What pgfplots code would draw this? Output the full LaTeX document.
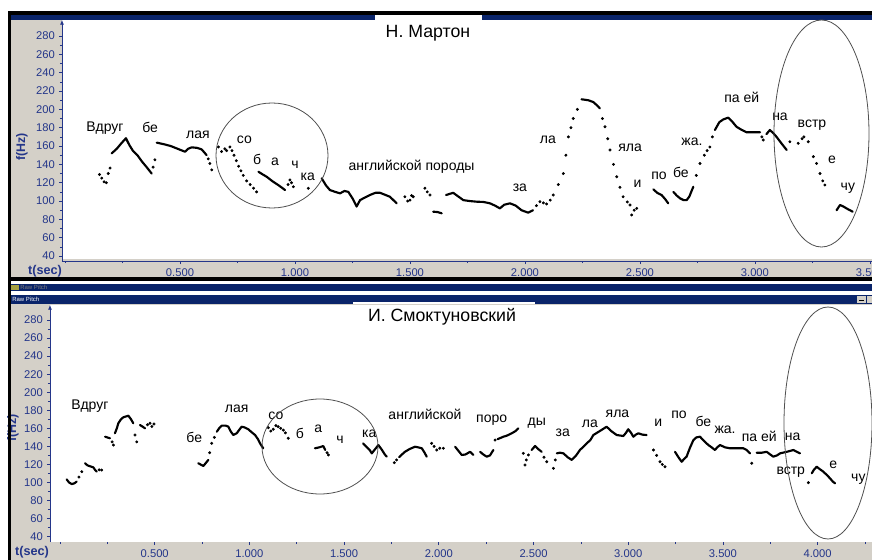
\documentclass[border=0pt]{standalone}
\usepackage{fontspec}
\setmainfont{Liberation Sans}
\usepackage{pgfplots}
\pgfplotsset{compat=1.18}
\usetikzlibrary{arrows.meta}

\definecolor{wingrey}{RGB}{212,208,200}
\definecolor{winnavy}{RGB}{10,36,106}
\definecolor{axnavy}{RGB}{36,54,138}
\definecolor{ringgrey}{RGB}{80,80,80}

\pgfplotsset{
  pitch/.style={
    scale only axis, clip mode=individual,
    axis x line*=bottom, axis y line=left,
    axis line style={axnavy, line width=0.6pt},
    y axis line style={-{Latex[length=3.5pt,width=3pt]}},
    tick style={axnavy, line width=0.5pt},
    tick align=outside,
    major tick length=2.4pt, minor tick length=1.5pt,
    ytick={40,60,...,280}, minor y tick num=1,
    ticklabel style={font=\fontsize{8.4}{9}\selectfont, text=axnavy},
    /pgf/number format/assume math mode=true,
    xticklabel style={/pgf/number format/.cd, fixed, fixed zerofill, precision=3, /tikz/.cd},
    yticklabel style={xshift=0.5pt},
    unbounded coords=jump,
  },
  ln/.style={black, line width=1.6pt, line join=round, line cap=round, no marks},
  sp/.style={black, only marks, mark=*, mark size=0.9pt},
}
\tikzset{wd/.style={font=\fontsize{10.5}{12}\selectfont, inner sep=0pt, anchor=center}}

\begin{document}
\begin{tikzpicture}
% window chrome, in pixels of the reference
\begin{scope}[x=0.75pt,y=-0.75pt]
  \fill[white] (0,0) rectangle (872,560);
  \fill[wingrey] (11,20) rectangle (872,277);
  \fill[white] (62,20) rectangle (872,259);
  \fill[black] (8,11) rectangle (872,15);
  \fill[winnavy] (11,15) rectangle (872,20);
  \fill[white] (375,15) rectangle (482,20);
  \fill[black] (8,277) rectangle (872,281);
  \fill[winnavy] (11,284) rectangle (872,291);
  \fill[winnavy] (11,295) rectangle (872,304);
  \fill[white] (353,302) rectangle (535,304);
  \fill[wingrey] (11,304) rectangle (872,560);
  \fill[white] (50,305) rectangle (872,542);
  \fill[wingrey] (857,296) rectangle (866,303);
  \draw[black, line width=0.6pt] (859,300.5) -- (864,300.5);
  \fill[wingrey] (867,296) rectangle (872,303);
  \node[font=\fontsize{4.5}{5}\selectfont, text=gray, anchor=west, inner sep=0pt] at (20,287.5) {Raw Pitch};
  \node[font=\fontsize{4.5}{5}\selectfont, text=white, anchor=west, inner sep=0pt] at (12,299.5) {Raw Pitch};
  \fill[yellow!60!black] (11,285) rectangle (19,290);
\end{scope}

% top panel: Н. Мартон
\begin{axis}[pitch,
  at={(46.5pt,-195.75pt)}, anchor=south west,
  width=607.5pt, height=180.75pt,
  xmin=-0.013, xmax=3.509, ymin=34.6, ymax=297.5,
  xtick={0.5,1,1.5,2,2.5,3,3.5},
  minor xtick={0,0.25,0.75,1.25,1.75,2.25,2.75,3.25}]
\addplot[ln] coordinates {
  (0.203,152)(0.225,157)(0.245,163)(0.265,168.5)(0.280,161)(0.295,155)(0.315,150)(0.335,143)(0.355,137)(0.377,130)
  (0.380,nan)
  (0.399,163.7)(0.43,162)(0.46,160)(0.49,157)(0.522,153.8)(0.535,157)(0.551,158.6)(0.575,158)(0.594,156.4)(0.606,153)(0.616,150)
  (0.620,nan)
  (0.841,132)(0.86,129)(0.877,126.5)(0.9,122)(0.93,117)(0.957,112)
  (0.960,nan)
  (1.116,124.8)(1.135,117)(1.152,112)(1.175,110)(1.196,108.4)(1.215,111)(1.232,110)(1.25,103)(1.268,94)(1.283,101)(1.305,104)(1.326,106.6)(1.35,109)(1.37,109)(1.39,107)(1.413,104.7)(1.442,97.5)
  (1.450,nan)
  (1.601,88.4)(1.62,88)(1.638,86.6)
  (1.645,nan)
  (1.657,106.6)(1.688,109)(1.71,105)(1.732,101)(1.76,100)(1.79,99.3)(1.82,99)(1.848,97.5)(1.87,95)(1.891,92)(1.91,96)(1.935,97.5)(1.96,95)(1.985,90)(2.014,87.3)(2.035,90)
  (2.040,nan)
  (2.246,211)(2.275,210)(2.297,208)(2.315,204)(2.326,201)
  (2.330,nan)
  (2.558,112.8)(2.575,109)(2.594,106.6)(2.61,102)(2.623,97.5)
  (2.630,nan)
  (2.645,110)(2.66,106)(2.674,103)(2.69,101)(2.703,101)(2.715,105)(2.732,115.6)
  (2.735,nan)
  (2.826,177.5)(2.845,186)(2.862,189)(2.884,191)(2.9,187)(2.92,181)(2.94,178)(2.964,175)(2.99,175)(3.022,175)
  (3.025,nan)
  (3.05,173)(3.065,177.5)(3.08,174)(3.094,170)(3.115,163)(3.138,155.7)
  (3.140,nan)
  (3.355,90)(3.37,95.7)(3.385,94)(3.398,92)(3.425,88.4)
};
\addplot[sp] coordinates {
  (0.150,129)(0.160,125)(0.170,121)(0.180,120)(0.188,130)(0.196,136)
  (0.383,137)(0.391,145)
  (0.623,146)(0.63,141)(0.638,134)
  (0.667,159)(0.681,154)(0.695,157)(0.703,155)
  (0.717,159)(0.726,155)(0.735,150)(0.745,144)(0.755,138)(0.765,133)(0.775,128)(0.79,122)(0.805,118)(0.82,114)(0.833,110)
  (0.97,118)(0.978,123)(0.985,120)(0.993,115.6)
  (1.058,113.9)
  (1.478,104.7)(1.49,100)(1.5,101)(1.507,106)(1.514,104.7)
  (1.565,114)(1.575,110)(1.587,106.6)
  (2.05,95)(2.065,99.3)(2.08,98)(2.094,96.8)(2.11,101)(2.123,106.6)(2.145,118)(2.167,130)(2.178,150)(2.189,170)(2.2,180)(2.21,190)(2.228,200)
  (2.337,190)(2.348,181)(2.36,168)(2.37,155.7)(2.385,140)(2.399,126.5)(2.413,115)(2.427,104.7)(2.445,99)(2.457,95.7)(2.464,84.8)(2.475,90)(2.486,92)
  (2.745,128)(2.761,141)(2.78,150)(2.792,155)(2.804,159)(2.815,170)
  (3.03,170)(3.036,166.6)
  (3.152,164.7)
  (3.188,163)(3.205,168)(3.213,170)(3.232,164.7)
  (3.254,148.4)(3.268,141)(3.283,130)(3.295,122)(3.304,117.5)
};
\node[wd] at (axis cs:0.174,180) {Вдруг};
\node[wd] at (axis cs:0.370,180.6) {бе};
\node[wd] at (axis cs:0.578,172) {лая};
\node[wd] at (axis cs:0.780,166.6) {со};
\node[wd] at (axis cs:0.835,145) {б};
\node[wd] at (axis cs:0.913,142.5) {а};
\node[wd] at (axis cs:1.000,140) {ч};
\node[wd] at (axis cs:1.056,126.6) {ка};
\node[wd] at (axis cs:1.507,137.5) {английской породы};
\node[wd] at (axis cs:1.978,114) {за};
\node[wd] at (axis cs:2.100,166.6) {ла};
\node[wd] at (axis cs:2.457,158) {яла};
\node[wd] at (axis cs:2.490,118.5) {и};
\node[wd] at (axis cs:2.583,127) {по};
\node[wd] at (axis cs:2.678,131.6) {бе};
\node[wd] at (axis cs:2.726,164.5) {жа.};
\node[wd] at (axis cs:2.943,213.5) {па ей};
\node[wd] at (axis cs:3.109,191.5) {на};
\node[wd] at (axis cs:3.248,183) {встр};
\node[wd] at (axis cs:3.335,144.8) {е};
\node[wd] at (axis cs:3.404,114.5) {чу};
\end{axis}

% bottom panel: И. Смоктуновский
\begin{axis}[pitch,
  at={(37.5pt,-406.5pt)}, anchor=south west,
  width=616.5pt, height=177.75pt,
  xmin=-0.0528, xmax=4.287, ymin=34.1, ymax=296.6,
  x axis line style={draw=none},
  xtick={0.5,1,1.5,2,2.5,3,3.5,4},
  minor xtick={0,0.25,0.75,1.25,1.75,2.25,2.75,3.25,3.75,4.25}]
\addplot[ln] coordinates {
  (0.035,103.5)(0.048,100)(0.062,98.3)(0.075,99)(0.088,101)
  (0.090,nan)
  (0.132,121.3)(0.145,119)(0.158,118)(0.176,116.8)(0.185,114)(0.194,112)
  (0.200,nan)
  (0.238,150.7)(0.264,149)
  (0.270,nan)
  (0.29,154.5)(0.3,160)(0.308,165.6)(0.322,170)(0.334,172.2)(0.361,174)(0.375,170)(0.387,165.6)
  (0.390,nan)
  (0.422,163.7)(0.435,162)(0.449,160)
  (0.455,nan)
  (0.73,121.3)(0.757,118.3)(0.783,125)
  (0.785,nan)
  (0.828,156.3)(0.84,160)(0.854,163)(0.875,163)(0.889,161.8)(0.9,157)(0.915,152.6)(0.933,154.5)(0.945,158)(0.959,161.8)(0.975,161)(0.994,159)(1.01,156)(1.03,152.6)(1.045,148)(1.056,143.4)(1.073,137.9)
  (1.080,nan)
  (1.346,137.9)(1.37,139)(1.39,140.4)(1.4,136)
  (1.405,nan)
  (1.6,143.4)(1.62,139)(1.635,136)(1.646,132.3)(1.66,136)(1.681,141.5)(1.7,136)(1.715,131)(1.725,128.6)
  (1.730,nan)
  (1.79,128)(1.805,131)(1.821,134)(1.845,137)(1.874,139.6)(1.89,139)(1.91,137.9)(1.925,133)(1.936,128.6)
  (1.940,nan)
  (2.086,139.6)(2.1,136)(2.121,130.5)(2.14,131)(2.165,134)(2.182,130.5)
  (2.190,nan)
  (2.218,134)(2.235,131)(2.253,128.6)(2.27,130)(2.288,136)
  (2.290,nan)
  (2.31,148)(2.341,150.7)(2.36,152)(2.385,154.5)(2.405,157)(2.42,160)
  (2.430,nan)
  (2.49,136)(2.508,140.4)(2.525,137)(2.543,134)
  (2.550,nan)
  (2.623,132.3)(2.64,133)(2.658,132.3)(2.68,128)(2.702,125)(2.725,130)(2.745,136)(2.765,140)(2.781,143.4)(2.8,147)(2.816,152.6)(2.85,157)(2.886,161.8)(2.91,157)(2.939,152.6)(2.974,151.5)(2.988,155)(3.0,159)(3.015,155)(3.027,150.7)(3.04,153)(3.053,154.5)(3.075,153)(3.097,152.6)
  (3.100,nan)
  (3.247,134)(3.265,128)(3.282,123)(3.295,126)(3.308,128.6)(3.325,138)(3.344,147)(3.36,150)(3.379,150.7)(3.4,146)(3.423,141.5)(3.44,139)(3.458,136)(3.47,139)(3.485,141.5)(3.51,139)(3.537,137.9)(3.57,138)(3.608,137.9)(3.625,136)(3.643,132.3)
  (3.650,nan)
  (3.678,133)(3.705,133)(3.731,134)(3.75,131)(3.766,128.6)(3.785,130)(3.802,132.3)(3.837,134)(3.855,135)(3.872,136)(3.89,134)(3.907,132.3)
  (3.910,nan)
  (3.969,110.2)(3.98,114)(3.995,117.5)(4.01,115)(4.03,112)(4.05,108)(4.065,104.7)(4.08,101)(4.092,99.1)
};
\addplot[sp] coordinates {
  (0.1,106)(0.115,112)
  (0.207,114)(0.22,113.8)
  (0.275,145)(0.282,141.5)
  (0.396,152.6)(0.405,145)
  (0.462,164)(0.475,165.6)(0.485,162)(0.496,164.8)
  (0.79,133)(0.801,143.4)(0.815,150)
  (1.1,160.7)(1.113,157)(1.126,159)(1.14,163)(1.152,161.8)(1.165,160)(1.179,158)(1.19,155)(1.205,149)
  (1.41,133)(1.417,130.5)
  (1.765,122)(1.777,125)
  (1.962,143.4)(1.975,140)(1.989,136)(2.005,138)(2.024,137.9)
  (2.297,147)
  (2.446,132.3)(2.455,119.4)(2.462,125)(2.473,130.5)
  (2.555,128)(2.57,123)
  (2.605,115.7)(2.615,125)
  (3.133,136)(3.15,130)(3.168,123)(3.18,120)(3.194,117.5)
  (3.652,121.3)
  (3.951,99.8)
};
\node[wd] at (axis cs:0.158,184.7) {Вдруг};
\node[wd] at (axis cs:0.709,150) {бе};
\node[wd] at (axis cs:0.933,182) {лая};
\node[wd] at (axis cs:1.140,173.6) {со};
\node[wd] at (axis cs:1.267,154.5) {б};
\node[wd] at (axis cs:1.364,160) {а};
\node[wd] at (axis cs:1.478,147) {ч};
\node[wd] at (axis cs:1.633,153.7) {ка};
\node[wd] at (axis cs:1.927,175.9) {английской};
\node[wd] at (axis cs:2.279,169) {поро};
\node[wd] at (axis cs:2.517,165.6) {ды};
\node[wd] at (axis cs:2.654,154.5) {за};
\node[wd] at (axis cs:2.798,164.8) {ла};
\node[wd] at (axis cs:2.943,176.6) {яла};
\node[wd] at (axis cs:3.159,165.6) {и};
\node[wd] at (axis cs:3.268,174.7) {по};
\node[wd] at (axis cs:3.397,167.3) {бе};
\node[wd] at (axis cs:3.511,158) {жа.};
\node[wd] at (axis cs:3.692,151.5) {па ей};
\node[wd] at (axis cs:3.868,150.7) {на};
\node[wd] at (axis cs:3.858,110.9) {встр};
\node[wd] at (axis cs:4.083,119.4) {е};
\node[wd] at (axis cs:4.215,103.5) {чу};
\end{axis}

% titles, axis names, rings and window border, in pixels
\begin{scope}[x=0.75pt,y=-0.75pt]
  \node[font=\fontsize{13.3}{15}\selectfont, inner sep=0pt] at (428,33) {Н. Мартон};
  \node[font=\fontsize{13.3}{15}\selectfont, inner sep=0pt] at (442,317) {И. Смоктуновский};
  \node[font=\bfseries\fontsize{9.3}{10}\selectfont, text=axnavy, rotate=90, inner sep=0pt] at (22,147) {f(Hz)};
  \node[font=\bfseries\fontsize{9.3}{10}\selectfont, text=axnavy, rotate=90, inner sep=0pt] at (13,428) {f(Hz)};
  \node[font=\bfseries\fontsize{9.5}{10}\selectfont, text=axnavy, inner sep=0pt] at (45,271) {t(sec)};
  \node[font=\bfseries\fontsize{9.5}{10}\selectfont, text=axnavy, inner sep=0pt] at (32,552) {t(sec)};
  \draw[ringgrey, line width=0.6pt] (272,155.5) ellipse [x radius=56, y radius=52.5];
  \draw[ringgrey, line width=0.6pt] (821.5,133.5) ellipse [x radius=47.5, y radius=113.5];
  \draw[ringgrey, line width=0.6pt] (320,446.5) ellipse [x radius=58, y radius=47.5];
  \draw[ringgrey, line width=0.6pt] (828,423) ellipse [x radius=44, y radius=116];
  \fill[black] (8,11) rectangle (11,560);
\end{scope}
\pgfresetboundingbox
\path[x=0.75pt,y=-0.75pt,use as bounding box] (0,0) rectangle (872,560);
\end{tikzpicture}
\end{document}
